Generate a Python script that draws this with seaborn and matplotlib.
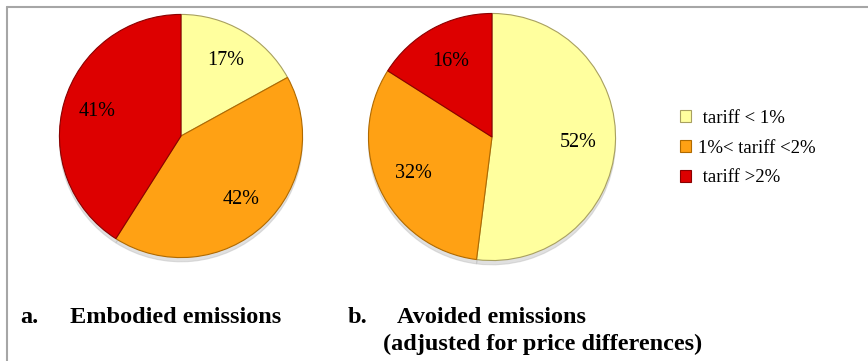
import matplotlib
matplotlib.use("Agg")
import matplotlib.pyplot as plt
from matplotlib.patches import Patch
from matplotlib.lines import Line2D
import seaborn as sns

# data
categories = [" tariff < 1%", "1%< tariff <2%", " tariff >2%"]
embodied = [17, 42, 41]
avoided = [52, 32, 16]
colors = ["#FFFF9E", "#FFA114", "#DD0000"]
edge_colors = ["#A8A060", "#B06A00", "#8A0000"]
captions_a = ["a.", "Embodied emissions"]
captions_b = ["b.", "Avoided emissions", "(adjusted for price differences)"]

sns.set_style("white")
plt.rcParams["font.family"] = ["Liberation Serif", "DejaVu Serif"]
plt.rcParams["text.color"] = "black"

W, H = 868, 361
fig = plt.figure(figsize=(W / 100, H / 100), dpi=100)


def px_axes(cx, cy, r):
    return fig.add_axes([(cx - r) / W, (H - cy - r) / H, 2 * r / W, 2 * r / H])


def draw_pie(ax, values, pctdist):
    wedges, texts, autotexts = ax.pie(
        values,
        colors=colors,
        startangle=90,
        counterclock=False,
        autopct="%d%%",
        pctdistance=pctdist,
        radius=1,
        shadow=dict(ox=0, oy=-0.025, color="#BBBBBB", alpha=0.45),
        wedgeprops=dict(linewidth=0.8),
        textprops=dict(fontsize=14.5, color="black"),
    )
    for w, ec in zip(wedges, edge_colors):
        w.set_edgecolor(ec)
    ax.set_xlim(-1.02, 1.02)
    ax.set_ylim(-1.02, 1.02)
    ax.set_axis_off()
    return wedges


ax_a = px_axes(181, 136, 124)
draw_pie(ax_a, embodied, 0.72)

ax_b = px_axes(492, 137, 126)
draw_pie(ax_b, avoided, 0.7)

# legend
handles = [Patch(facecolor=c, edgecolor=ec, linewidth=0.8) for c, ec in zip(colors, edge_colors)]
fig.legend(
    handles,
    categories,
    loc="upper left",
    bbox_to_anchor=(663 / W, 1 - 93 / H),
    frameon=False,
    fontsize=13.5,
    handlelength=0.6,
    handleheight=0.6,
    handletextpad=0.35,
    labelspacing=0.68,
    labelcolor="black",
)

# captions
cap = dict(fontsize=17.5, fontweight="bold", va="baseline", color="black")
fig.text(20 / W, 1 - 323 / H, captions_a[0], **cap)
fig.text(70 / W, 1 - 323 / H, captions_a[1], **cap)
fig.text(348 / W, 1 - 323 / H, captions_b[0], **cap)
fig.text(397 / W, 1 - 323 / H, captions_b[1], **cap)
fig.text(383 / W, 1 - 350 / H, captions_b[2], **cap)

# frame lines
fig.add_artist(Line2D([7 / W, 1], [1 - 7 / H, 1 - 7 / H], color="#A6A6A6", lw=1.5))
fig.add_artist(Line2D([7 / W, 7 / W], [0, 1 - 7 / H], color="#A6A6A6", lw=1.5))

fig.savefig("out.png", dpi=100)
